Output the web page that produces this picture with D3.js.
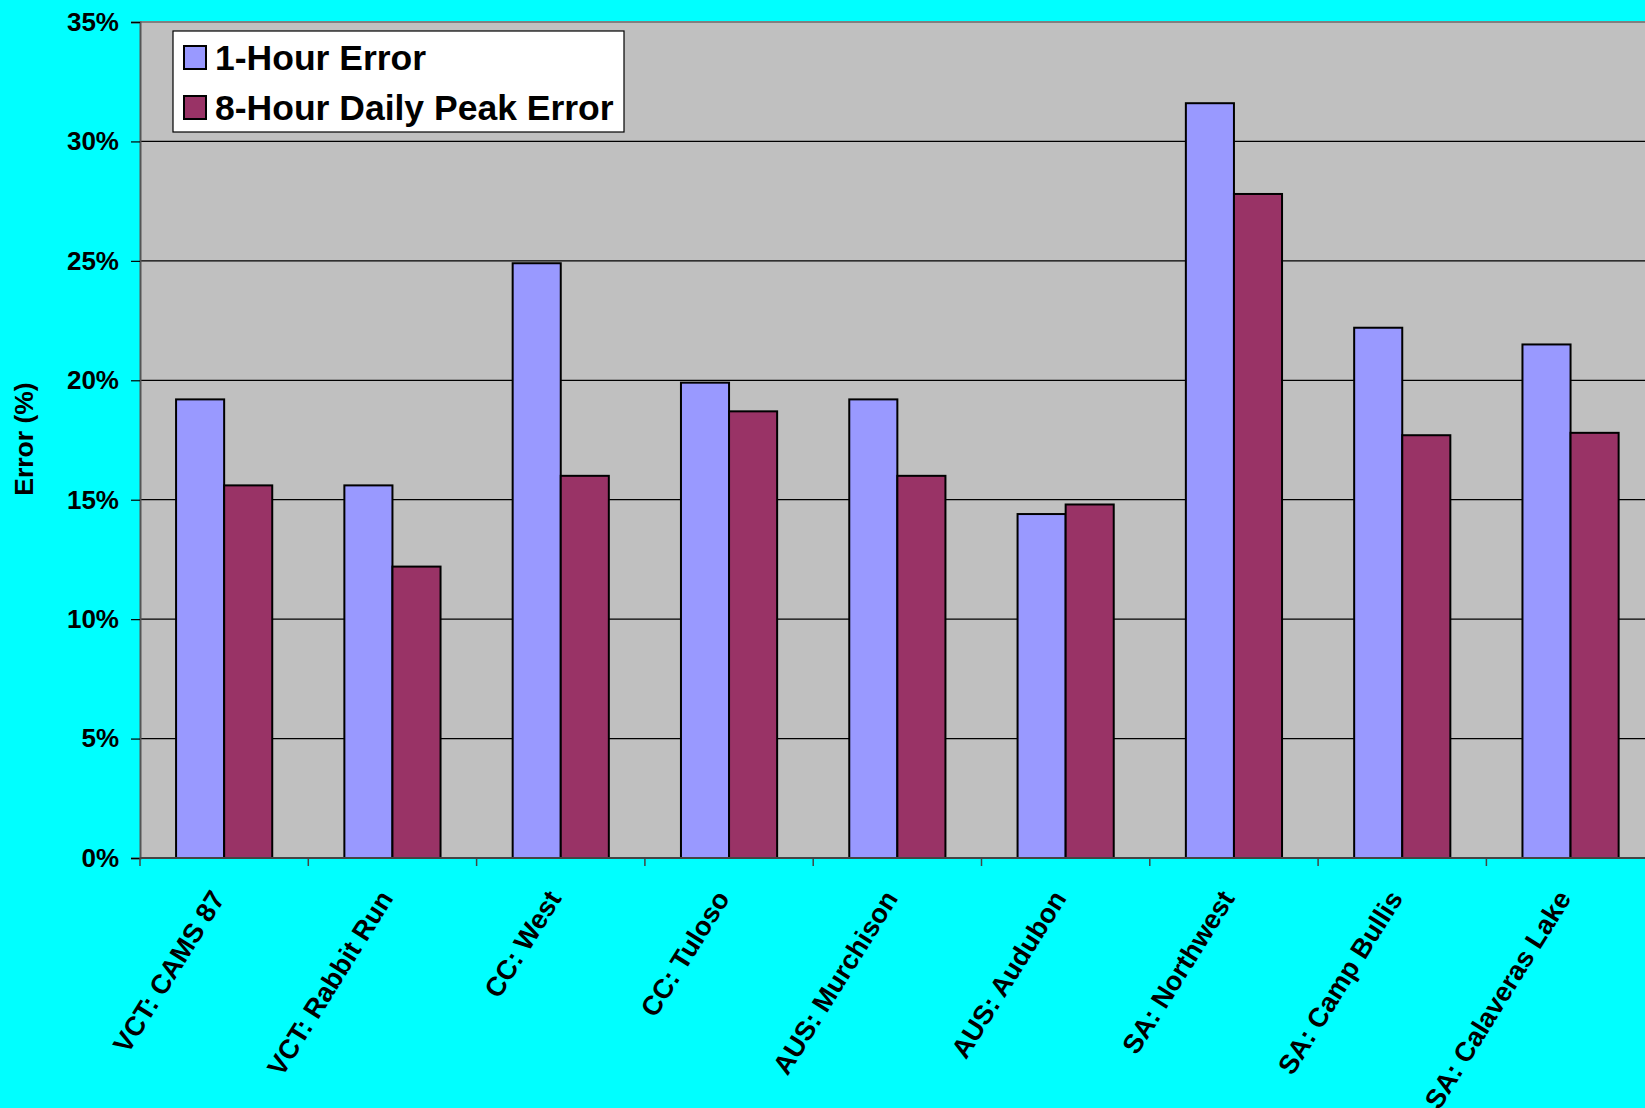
<!DOCTYPE html>
<html>
<head>
<meta charset="utf-8">
<script src="https://cdn.jsdelivr.net/npm/d3@7"></script>
<style>
  html, body { margin: 0; padding: 0; background: #00FFFF; overflow: hidden; }
  svg { display: block; }
  text { font-family: "Liberation Sans", Arial, sans-serif; font-weight: bold; fill: #000; }
</style>
</head>
<body>
<svg id="chart" width="1645" height="1108"></svg>
<script>
// Monitor sites
const categories = [
  "VCT: CAMS 87", "VCT: Rabbit Run", "CC: West", "CC: Tuloso",
  "AUS: Murchison", "AUS: Audubon", "SA: Northwest", "SA: Camp Bullis",
  "SA: Calaveras Lake"
];
// Error values in percent
const oneHourError   = [19.2, 15.6, 24.9, 19.9, 19.2, 14.4, 31.6, 22.2, 21.5];
const eightHourError = [15.6, 12.2, 16.0, 18.7, 16.0, 14.8, 27.8, 17.7, 17.8];
const seriesNames  = ["1-Hour Error", "8-Hour Daily Peak Error"];
const seriesColors = ["#9999FF", "#993366"];
const yTicks = [0, 5, 10, 15, 20, 25, 30, 35];

const svg = d3.select("#chart");

// Plot area (the right edge runs past the page)
const plot = { left: 140, top: 22, bottom: 858, right: 1654.7 };

const x = d3.scaleBand()
  .domain(categories)
  .range([plot.left, plot.right])
  .paddingInner(1.5 / 3.5)
  .paddingOuter(0.75 / 3.5);

const xs = d3.scaleBand()
  .domain(seriesNames)
  .range([0, x.bandwidth()]);

const y = d3.scaleLinear().domain([0, 35]).range([plot.bottom, plot.top]);

// Plot background
svg.append("rect")
  .attr("x", plot.left).attr("y", plot.top)
  .attr("width", plot.right - plot.left).attr("height", plot.bottom - plot.top)
  .attr("fill", "#C0C0C0");

// Gridlines
svg.append("g")
  .selectAll("line")
  .data(yTicks.filter(d => d > 0 && d < 35))
  .join("line")
  .attr("x1", plot.left).attr("x2", plot.right)
  .attr("y1", d => y(d)).attr("y2", d => y(d))
  .attr("stroke", "#000").attr("stroke-width", 1.3);

// Top border of the plot area
svg.append("line")
  .attr("x1", plot.left).attr("x2", plot.right)
  .attr("y1", plot.top).attr("y2", plot.top)
  .attr("stroke", "#808080").attr("stroke-width", 2);

// Bars
const rows = categories.map((c, i) => ({ cat: c, vals: [oneHourError[i], eightHourError[i]] }));
const groups = svg.append("g").selectAll("g")
  .data(rows)
  .join("g")
  .attr("transform", d => `translate(${x(d.cat)},0)`);

groups.selectAll("rect")
  .data(d => d.vals.map((v, j) => ({ v, name: seriesNames[j], color: seriesColors[j] })))
  .join("rect")
  .attr("x", d => xs(d.name))
  .attr("width", xs.bandwidth())
  .attr("y", d => y(d.v))
  .attr("height", d => y(0) - y(d.v))
  .attr("fill", d => d.color)
  .attr("stroke", "#000")
  .attr("stroke-width", 2);

// Y axis
const yAxis = svg.append("g")
  .attr("transform", `translate(${plot.left},0)`)
  .call(d3.axisLeft(y).tickValues(yTicks).tickFormat(d => d + "%").tickSize(9).tickPadding(12));
yAxis.select(".domain").attr("stroke", "#555").attr("stroke-width", 2);
yAxis.selectAll(".tick line").attr("stroke", "#000").attr("stroke-width", 1.2);
yAxis.selectAll(".tick text")
  .attr("font-size", 26)
  .attr("font-family", "'Liberation Sans', Arial, sans-serif")
  .attr("font-weight", "bold")
  .attr("fill", "#000");

// X axis line and category boundary ticks
const step = x.step();
svg.append("line")
  .attr("x1", plot.left).attr("x2", plot.right)
  .attr("y1", plot.bottom).attr("y2", plot.bottom)
  .attr("stroke", "#444").attr("stroke-width", 2);
svg.append("g").selectAll("line")
  .data(d3.range(categories.length + 1))
  .join("line")
  .attr("x1", i => plot.left + i * step).attr("x2", i => plot.left + i * step)
  .attr("y1", plot.bottom).attr("y2", plot.bottom + 8)
  .attr("stroke", "#444").attr("stroke-width", 1.5);

// Category labels, rotated
svg.append("g").selectAll("text")
  .data(categories)
  .join("text")
  .attr("transform", d => `translate(${x(d) + x.bandwidth() / 2 - 15},888) rotate(-58)`)
  .attr("text-anchor", "end")
  .attr("dy", "0.72em")
  .attr("font-size", 27)
  .text(d => d);

// Y axis title
svg.append("text")
  .attr("transform", "translate(33,439) rotate(-90)")
  .attr("text-anchor", "middle")
  .attr("font-size", 26.5)
  .text("Error (%)");

// Legend
const legend = svg.append("g");
legend.append("rect")
  .attr("x", 173).attr("y", 31).attr("width", 451).attr("height", 101)
  .attr("fill", "#fff").attr("stroke", "#000").attr("stroke-width", 1.2);
seriesNames.forEach((name, i) => {
  const yy = 46 + i * 50;
  legend.append("rect")
    .attr("x", 184).attr("y", yy).attr("width", 22).attr("height", 23)
    .attr("fill", seriesColors[i]).attr("stroke", "#000").attr("stroke-width", 2);
  legend.append("text")
    .attr("x", 215).attr("y", yy + 24)
    .attr("font-size", 35.5)
    .text(name);
});
</script>
</body>
</html>
